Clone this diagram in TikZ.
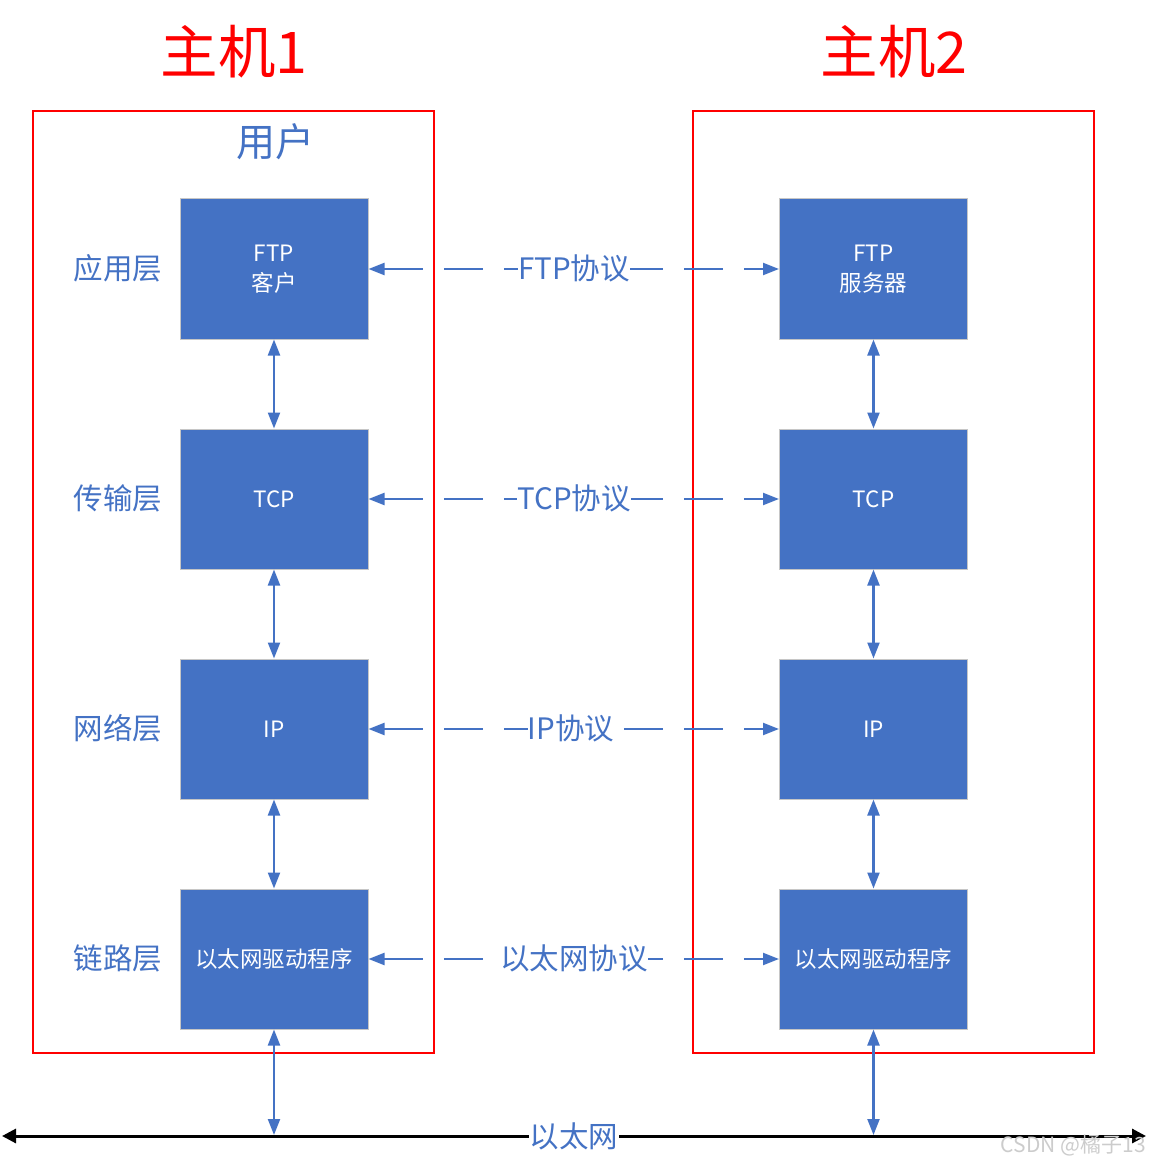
\documentclass[tikz,border=0pt]{standalone}
\usepackage{fontspec}
\setmainfont{Noto Sans CJK SC}
\usetikzlibrary{arrows.meta}
\definecolor{myblue}{HTML}{4472C4}
\begin{document}
\begin{tikzpicture}[x=1pt,y=-1pt,
  layerbox/.style={draw=gray!45, line width=1pt, fill=myblue, minimum width=188pt, minimum height=140pt, inner sep=0pt, text=white, font=\fontsize{22.5}{30}\selectfont, align=center},
  hostframe/.style={draw=red, line width=2pt, minimum width=401pt, minimum height=942pt, inner sep=0pt},
  hosttitle/.style={text=red, font=\fontsize{57.5}{62}\selectfont, inner sep=0pt},
  layerlbl/.style={text=myblue, font=\fontsize{29.5}{32}\selectfont, inner sep=0pt},
  protolbl/.style={text=myblue, font=\fontsize{29.5}{32}\selectfont, fill=white, inner sep=0pt},
  dasharrow/.style={myblue, line width=2.2pt, dash pattern=on 39pt off 21pt, {Triangle[length=16pt,width=12pt]}-{Triangle[length=16pt,width=12pt]}},
  varrow/.style={myblue, line width=2.2pt, {Triangle[length=16pt,width=12pt]}-{Triangle[length=16pt,width=12pt]}},
  ethline/.style={black, line width=3pt, {Triangle[length=14pt,width=14pt]}-{Triangle[length=14pt,width=14pt]}}
]
\useasboundingbox (0,0) rectangle (1148,1166);

% host frames
\node[hostframe] (h1) at (233.5,582) {};
\node[hostframe] (h2) at (893.5,582) {};
\node[hosttitle] (t1) at (234,52) {主机1};
\node[hosttitle] (t2) at (894,52) {主机2};
\node[text=myblue, font=\fontsize{39}{42}\selectfont, inner sep=0pt] (user) at (275,142) {用户};

% layer labels
\node[layerlbl] (l1) at (118,268) {应用层};
\node[layerlbl] (l2) at (118,498) {传输层};
\node[layerlbl] (l3) at (118,728) {网络层};
\node[layerlbl] (l4) at (118,958) {链路层};

% left boxes
\node[layerbox] (a1) at (274,269) {FTP\\客户};
\node[layerbox] (a2) at (274,499) {TCP};
\node[layerbox] (a3) at (274,729) {IP};
\node[layerbox] (a4) at (274,959) {以太网驱动程序};

% right boxes
\node[layerbox] (b1) at (873.5,269) {FTP\\服务器};
\node[layerbox] (b2) at (873.5,499) {TCP};
\node[layerbox] (b3) at (873.5,729) {IP};
\node[layerbox] (b4) at (873.5,959) {以太网驱动程序};

% vertical arrows
\draw[varrow] (a1.south) -- (a2.north);
\draw[varrow] (a2.south) -- (a3.north);
\draw[varrow] (a3.south) -- (a4.north);
\draw[varrow] (b1.south) -- (b2.north);
\draw[varrow] (b2.south) -- (b3.north);
\draw[varrow] (b3.south) -- (b4.north);

% protocol arrows
\draw[dasharrow] (a1.east) -- (b1.west);
\draw[dasharrow] (a2.east) -- (b2.west);
\draw[dasharrow] (a3.east) -- (b3.west);
\draw[dasharrow] (a4.east) -- (b4.west);
\node[protolbl] (p1) at (574,268) {FTP协议};
\node[protolbl] (p2) at (574,498) {TCP协议};
\node[protolbl] (p3) at (571,728) {IP协议};
\node[protolbl] (p4) at (574,958) {以太网协议};

% ethernet
\coordinate (eL) at (2,1136);
\coordinate (eR) at (1146,1136);
\draw[ethline] (eL) -- (eR);
\coordinate (e1) at (274,1135);
\coordinate (e2) at (873.5,1135);
\draw[varrow] (a4.south) -- (e1);
\draw[varrow] (b4.south) -- (e2);
\node[text=myblue, fill=white, inner sep=1pt, font=\fontsize{29.5}{32}\selectfont] (eth) at (574,1136) {以太网};

\node[text=gray!40, font=\fontsize{21}{24}\selectfont, inner sep=0pt, anchor=east] (wm) at (1146,1145) {CSDN @橘子13};
\end{tikzpicture}
\end{document}
